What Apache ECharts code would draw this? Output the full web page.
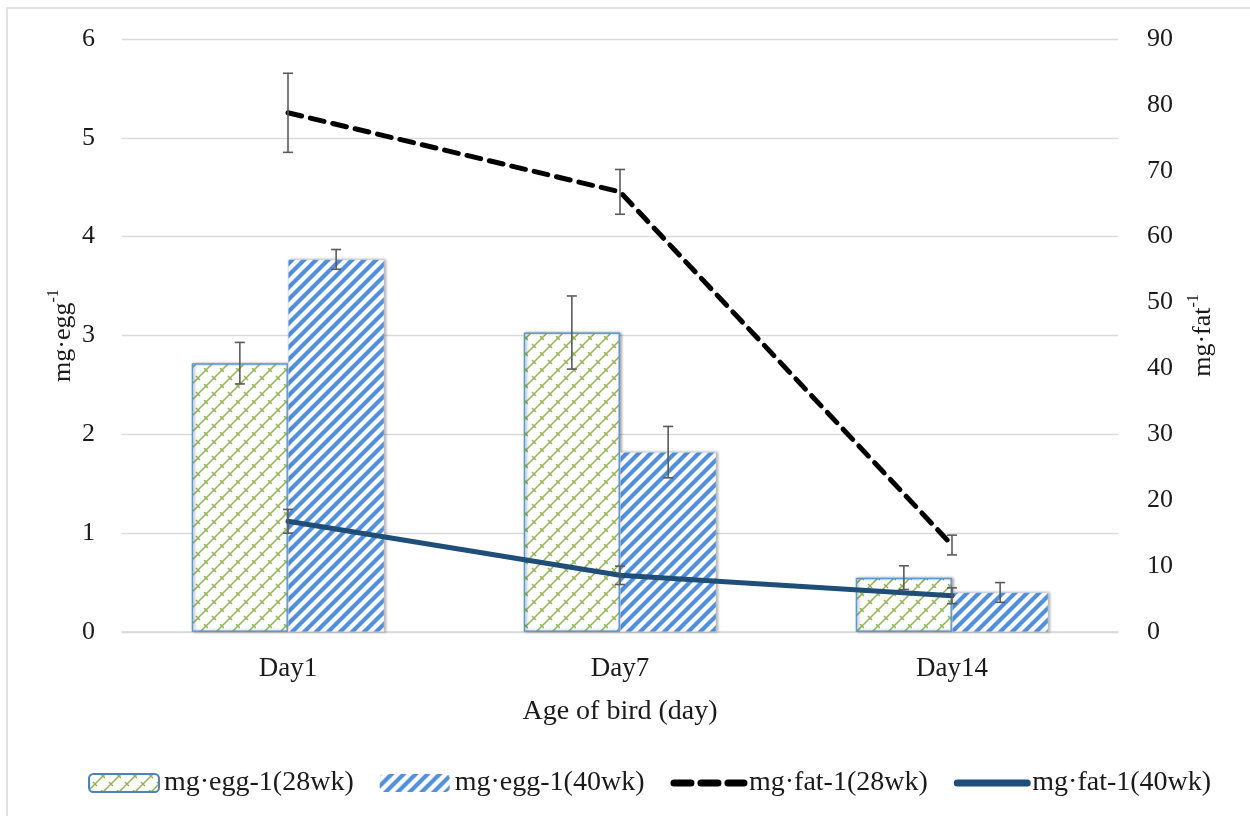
<!DOCTYPE html>
<html><head><meta charset="utf-8">
<script src="https://cdn.jsdelivr.net/npm/echarts@6/dist/echarts.min.js"></script>
<style>html,body{margin:0;padding:0;background:#fff}#c{width:1250px;height:816px}</style>
</head><body><div id="c"></div>
<script>
const categories = ['Day1', 'Day7', 'Day14'];
const egg28 = [2.72, 3.03, 0.55];
const egg28Err = [0.21, 0.37, 0.12];
const egg40 = [3.77, 1.82, 0.40];
const egg40Err = [0.10, 0.26, 0.10];
const fat28 = [78.8, 66.8, 13.2];
const fat28Err = [6.0, 3.4, 1.5];
const fat40 = [16.8, 8.6, 5.5];
const fat40Err = [1.8, 1.4, 1.2];
const names = ['mg·egg-1(28wk)', 'mg·egg-1(40wk)', 'mg·fat-1(28wk)', 'mg·fat-1(40wk)'];

function stripePattern() {
  const s = 12, c = document.createElement('canvas');
  c.width = s; c.height = s;
  const g = c.getContext('2d');
  g.fillStyle = '#fff'; g.fillRect(0, 0, s, s);
  g.strokeStyle = '#5290dc'; g.lineWidth = 4.2; g.lineCap = 'square';
  g.beginPath();
  g.moveTo(-2, s + 2); g.lineTo(s + 2, -2);
  g.moveTo(-2, 2); g.lineTo(2, -2);
  g.moveTo(s - 2, s + 2); g.lineTo(s + 2, s - 2);
  g.stroke();
  return c;
}
function latticePattern() {
  const w = 16, h = 16, c = document.createElement('canvas');
  c.width = w; c.height = h;
  const g = c.getContext('2d');
  g.fillStyle = '#fff'; g.fillRect(0, 0, w, h);
  g.strokeStyle = '#8fb350'; g.lineWidth = 1.5;
  g.beginPath();
  g.moveTo(0, h); g.lineTo(w, 0);
  g.moveTo(-w / 2, h / 2); g.lineTo(w / 2, -h / 2);
  g.moveTo(w / 2, h * 1.5); g.lineTo(w * 1.5, h / 2);
  g.moveTo(w / 4, h * 3 / 4 - 4); g.lineTo(w / 4 + 4, h * 3 / 4);
  g.moveTo(w * 3 / 4, h / 4 - 4); g.lineTo(w * 3 / 4 + 4, h / 4);
  g.stroke();
  return c;
}

const chart = echarts.init(document.getElementById('c'), null, {renderer: 'canvas'});
const font = 'Liberation Serif';
const txt = '#1a1a1a';
const fs = 26;
const fsBig = 28;

function errSeries(name, vals, errs, yIdx, offsetFrac) {
  return {
    type: 'custom', name: name + ' err', yAxisIndex: yIdx, silent: true, z: 10,
    data: vals.map((v, i) => [i, v - errs[i], v + errs[i]]),
    renderItem: function (params, api) {
      const band = api.size([1, 0])[0];
      const lo = api.coord([api.value(0), api.value(1)]);
      const hi = api.coord([api.value(0), api.value(2)]);
      const x = lo[0] + band * offsetFrac, cap = 5;
      const st = {stroke: '#5a5a5a', lineWidth: 1.6};
      return {type: 'group', children: [
        {type: 'line', shape: {x1: x, y1: lo[1], x2: x, y2: hi[1]}, style: st},
        {type: 'line', shape: {x1: x - cap, y1: lo[1], x2: x + cap, y2: lo[1]}, style: st},
        {type: 'line', shape: {x1: x - cap, y1: hi[1], x2: x + cap, y2: hi[1]}, style: st}
      ]};
    }
  };
}

const barShadow = {shadowColor: 'rgba(0,0,0,0.35)', shadowBlur: 3, shadowOffsetX: 1.5, shadowOffsetY: 0};
const nameRich = {
  a: {fontFamily: font, fontSize: fs, color: txt, lineHeight: 30, verticalAlign: 'bottom'},
  s: {fontFamily: font, fontSize: 16, color: txt, lineHeight: 30, verticalAlign: 'top'}
};

chart.setOption({
  animation: false,
  textStyle: {fontFamily: font},
  graphic: [{type: 'rect', shape: {x: 7, y: 8, width: 1260, height: 830}, style: {fill: 'none', stroke: '#d9d9d9', lineWidth: 1.5}, silent: true}],
  grid: {left: 122, right: 132, top: 39, bottom: 184},
  legend: {
    top: 764, left: 83, itemWidth: 70, itemHeight: 18, itemGap: 26,
    textStyle: {fontFamily: font, fontSize: fsBig, color: txt},
    data: [
      {name: names[0], itemStyle: {borderColor: '#4f81bd', borderWidth: 2}},
      {name: names[1], itemStyle: {borderWidth: 0}},
      {name: names[2], itemStyle: {opacity: 0}, lineStyle: {width: 7, type: [17, 10], cap: 'round'}},
      {name: names[3], itemStyle: {opacity: 0}, lineStyle: {width: 7, cap: 'round'}}
    ]
  },
  xAxis: {
    type: 'category', data: categories,
    axisLine: {lineStyle: {color: '#d9d9d9', width: 1.5}},
    axisTick: {show: false},
    axisLabel: {fontFamily: font, fontSize: 27, color: txt, margin: 23},
    name: 'Age of bird (day)', nameLocation: 'middle', nameGap: 66, nameMoveOverlap: false,
    nameTextStyle: {fontFamily: font, fontSize: fsBig, color: txt}
  },
  yAxis: [{
    type: 'value', min: 0, max: 6, interval: 1, position: 'left',
    axisLine: {show: false}, axisTick: {show: false},
    splitLine: {lineStyle: {color: '#d9d9d9', width: 1.3}},
    axisLabel: {fontFamily: font, fontSize: fs, color: txt, margin: 27},
    name: '{a|mg·egg}{s|-1}', nameLocation: 'middle', nameGap: 46, nameRotate: 90, nameMoveOverlap: false,
    nameTextStyle: {fontFamily: font, rich: nameRich}
  }, {
    type: 'value', min: 0, max: 90, interval: 10, position: 'right',
    axisLine: {show: false}, axisTick: {show: false}, splitLine: {show: false},
    axisLabel: {fontFamily: font, fontSize: fs, color: txt, margin: 29},
    name: '{a|mg·fat}{s|-1}', nameLocation: 'middle', nameGap: 68, nameRotate: 90, nameMoveOverlap: false,
    nameTextStyle: {fontFamily: font, rich: nameRich}
  }],
  series: [
    {name: names[0], type: 'bar', yAxisIndex: 0, data: egg28, barWidth: '29%', barGap: '0%',
     itemStyle: Object.assign({color: {image: latticePattern(), repeat: 'repeat'}, borderColor: '#5b9bd5', borderWidth: 1.5}, barShadow)},
    {name: names[1], type: 'bar', yAxisIndex: 0, data: egg40, barWidth: '29%', barGap: '0%',
     itemStyle: Object.assign({color: {image: stripePattern(), repeat: 'repeat'}, borderColor: '#c9d6e6', borderWidth: 0.5}, barShadow)},
    {name: names[2], type: 'line', yAxisIndex: 1, data: fat28, symbol: 'none', z: 5,
     itemStyle: {color: '#000'},
     lineStyle: {color: '#000', width: 5, type: [14, 9], cap: 'round'}},
    {name: names[3], type: 'line', yAxisIndex: 1, data: fat40, symbol: 'none', z: 4,
     itemStyle: {color: '#1f4e79'},
     lineStyle: {color: '#1f4e79', width: 5, cap: 'round'}},
    errSeries(names[0], egg28, egg28Err, 0, -0.145),
    errSeries(names[1], egg40, egg40Err, 0, 0.145),
    errSeries(names[2], fat28, fat28Err, 1, 0),
    errSeries(names[3], fat40, fat40Err, 1, 0)
  ]
});
</script></body></html>
